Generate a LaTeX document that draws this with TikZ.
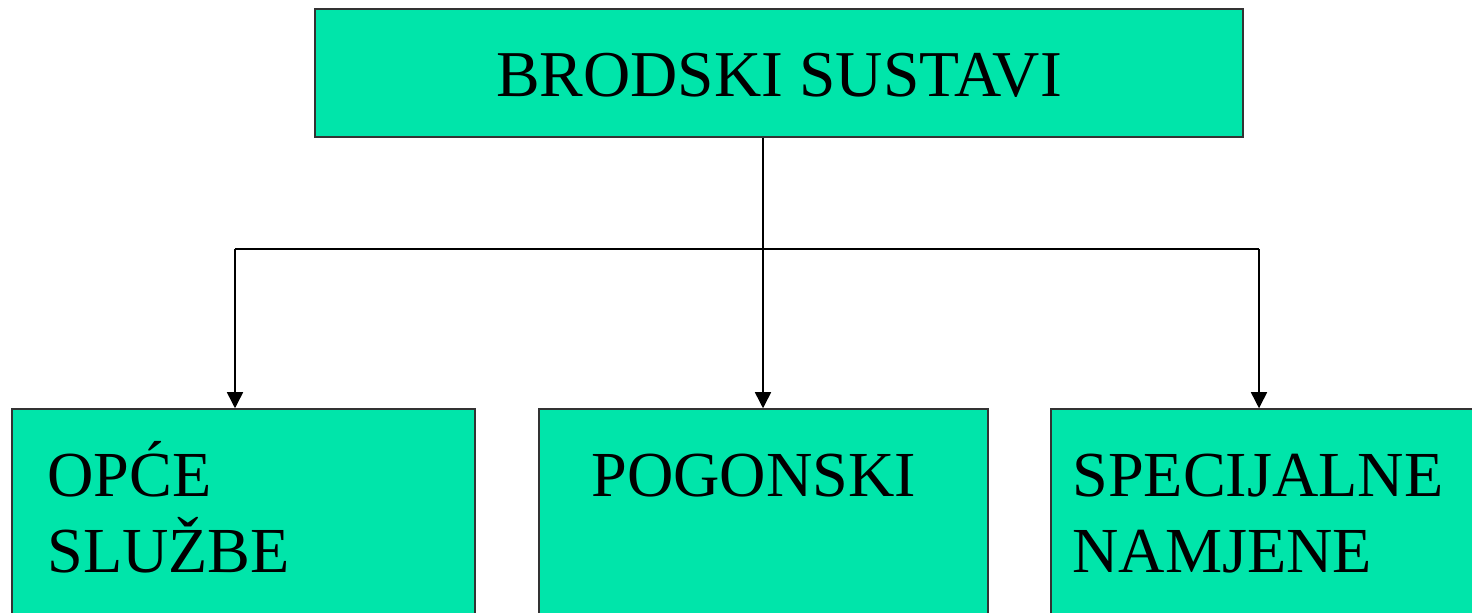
\documentclass[tikz,border=0pt]{standalone}
\usepackage{fontspec}
\usepackage{xcolor}
\setmainfont{Liberation Serif}
\usetikzlibrary{arrows.meta}
\usetikzlibrary{positioning}

\definecolor{boxgreen}{RGB}{0,229,170}

\begin{document}
\begin{tikzpicture}[x=0.5pt,y=-0.5pt]
	%\draw[help lines] (0,0) grid (1472,613);
	
	\tikzstyle{sbox} = [draw=black!80,line width=0.75pt,fill=boxgreen,inner sep=0pt]
	\tikzstyle{slabel} = [font=\fontsize{32.1}{38}\selectfont,align=left,inner sep=0pt,anchor=base west]
	\tikzstyle{sedge} = [-{Triangle[width=8pt,length=8pt]},line width=0.75pt]
	
	\useasboundingbox (0,0) rectangle (1472,613);
	\clip (0,0) rectangle (1472,613);
	
	\node[sbox,minimum width=464pt,minimum height=64pt,font=\fontsize{32.7}{38}\selectfont,text height=24pt] (sustavi) at (779,73) {BRODSKI SUSTAVI};
	
	\node[sbox,minimum width=231.5pt,minimum height=120pt] (opce) at (243.5,529) {};
	\node[sbox,minimum width=224.5pt,minimum height=120pt] (pogonski) at (763.5,529) {};
	\node[sbox,minimum width=220pt,minimum height=120pt] (specijalne) at (1271,529) {};
	
	% base anchor sits on the last line
	\node[slabel] (opcetxt) at (47,573) {OPĆE\\SLUŽBE};
	\node[slabel] (pogonskitxt) at (591,497) {POGONSKI};
	\node[slabel] (specijalnetxt) at (1072,573) {SPECIJALNE\\NAMJENE};
	
	\coordinate (hub) at (763,249);
	\coordinate (hubl) at (235,249);
	\coordinate (hubr) at (1259,249);
	
	\draw[line width=0.75pt] (hub |- sustavi.south) -- (hub);
	\draw[line width=0.75pt] (hubl) -- (hubr);
	\draw[sedge] (hub) -- (hub |- pogonski.north);
	\draw[sedge] (hubl) -- (hubl |- opce.north);
	\draw[sedge] (hubr) -- (hubr |- specijalne.north);

\end{tikzpicture}
\end{document}
